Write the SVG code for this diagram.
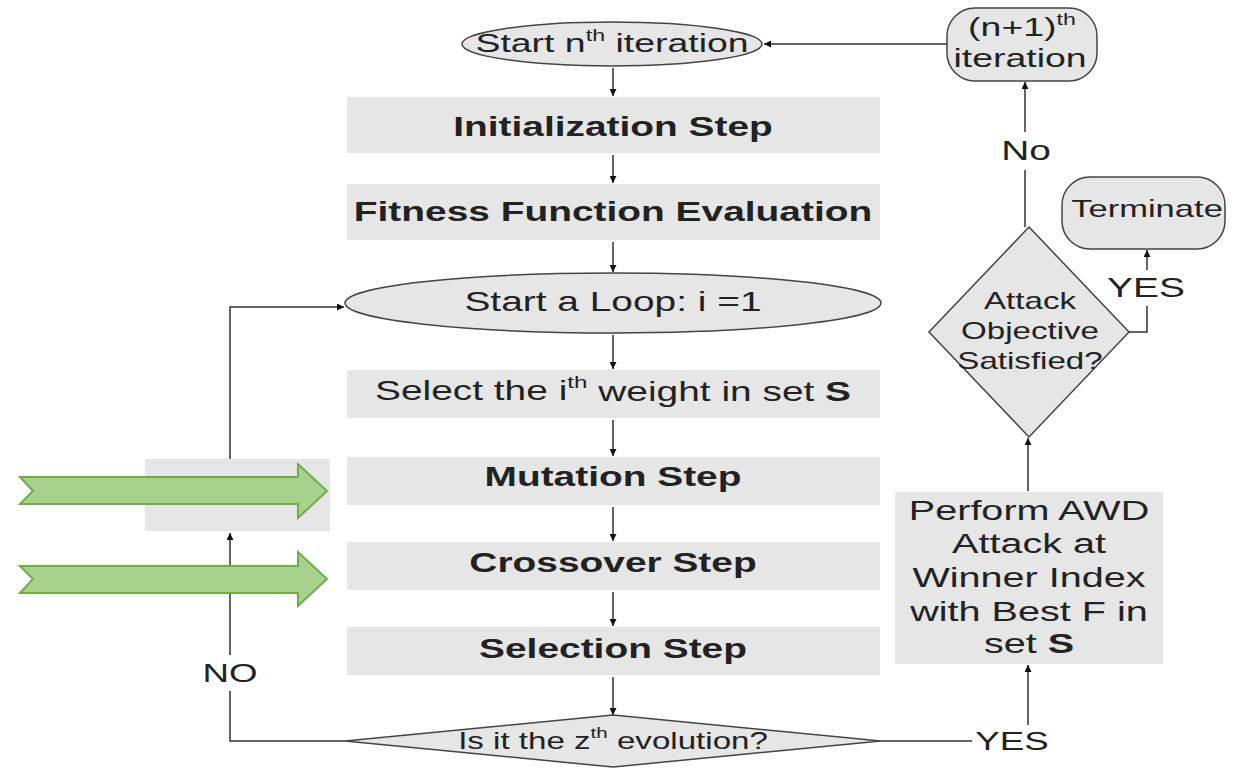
<svg xmlns="http://www.w3.org/2000/svg" width="1237" height="769" viewBox="0 0 1237 769">
  <defs>
    <marker id="ah" viewBox="0 0 10 10" refX="10" refY="5" markerWidth="7" markerHeight="7" orient="auto" markerUnits="userSpaceOnUse">
      <path d="M0,0 L10,5 L0,10 z" fill="#111"/>
    </marker>
    <style>
      text { font-family: "Liberation Sans", Arial, sans-serif; fill: #222; text-anchor: middle; dominant-baseline: central; }
      .box { fill: #e6e6e6; stroke: none; }
      .term { fill: #e6e6e6; stroke: #444; stroke-width: 1.5; }
      .b { font-weight: bold; font-size: 27px; }
      .n { font-size: 27px; }
      .edge { fill: none; stroke: #333; stroke-width: 1.5; }
      .arr { marker-end: url(#ah); }
      .green { fill: #a9d18e; stroke: #70ad47; stroke-width: 2; }
      .sup { font-size: 62%; }
    </style>
  </defs>
  <rect width="1237" height="769" fill="#ffffff"/>

  <!-- connectors -->
  <g id="connectors">
    <line class="edge arr" x1="613" y1="68" x2="613" y2="96"/>
    <line class="edge arr" x1="613" y1="155" x2="613" y2="183"/>
    <line class="edge arr" x1="613" y1="242" x2="613" y2="272"/>
    <line class="edge arr" x1="613" y1="335" x2="613" y2="369"/>
    <line class="edge arr" x1="613" y1="420" x2="613" y2="456"/>
    <line class="edge arr" x1="613" y1="507" x2="613" y2="541"/>
    <line class="edge arr" x1="613" y1="592" x2="613" y2="626"/>
    <line class="edge arr" x1="613" y1="677" x2="613" y2="715"/>
    <!-- NO branch back to the loop -->
    <polyline class="edge arr" points="345,741 230,741 230,533"/>
    <polyline class="edge arr" points="230,459 230,307 344,307"/>
    <!-- YES branch to the attack -->
    <polyline class="edge" points="881,741 972,741"/>
    <line class="edge arr" x1="1028" y1="725" x2="1028" y2="665"/>
    <line class="edge arr" x1="1028" y1="491" x2="1028" y2="438"/>
    <!-- objective not met: next iteration -->
    <line class="edge" x1="1025" y1="227" x2="1025" y2="170"/>
    <line class="edge arr" x1="1025" y1="132" x2="1025" y2="82"/>
    <line class="edge arr" x1="947" y1="44" x2="764" y2="44"/>
    <!-- objective met: terminate -->
    <polyline class="edge" points="1129,332 1147,332 1147,306"/>
    <line class="edge arr" x1="1147" y1="270" x2="1147" y2="250"/>
    <rect x="200" y="655" width="60" height="36" fill="#ffffff"/>
    <text transform="translate(230,673) scale(1.44,1)" font-size="25.5">NO</text>
    <text transform="translate(1012,741) scale(1.44,1)" font-size="25.5">YES</text>
    <text transform="translate(1026,151) scale(1.44,1)" font-size="27">No</text>
    <text transform="translate(1146,288) scale(1.44,1)" font-size="27">YES</text>
  </g>

  <g id="start-iter">
    <ellipse class="term" cx="612" cy="44" rx="150" ry="22"/>
    <text transform="translate(612,43) scale(1.44,1)" font-size="26">Start n<tspan class="sup" dy="-8">th</tspan><tspan dy="8"> iteration</tspan></text>
  </g>

  <g id="next-iter">
    <rect class="term" x="947" y="8" width="150" height="73" rx="28" ry="28"/>
    <text transform="translate(1022,27) scale(1.44,1)" font-size="26">(n+1)<tspan class="sup" dy="-8">th</tspan></text>
    <text transform="translate(1020,58) scale(1.44,1)" font-size="26">iteration</text>
  </g>

  <g id="init">
    <rect class="box" x="347" y="97" width="533" height="56"/>
    <text class="b" transform="translate(613,127) scale(1.44,1)">Initialization Step</text>
  </g>

  <g id="fitness">
    <rect class="box" x="347" y="184" width="533" height="56"/>
    <text class="b" transform="translate(613,212) scale(1.44,1)">Fitness Function Evaluation</text>
  </g>

  <g id="loop">
    <ellipse class="term" cx="613" cy="303" rx="268" ry="30"/>
    <text class="n" transform="translate(613,302) scale(1.44,1)">Start a Loop: i =1</text>
  </g>

  <g id="select-weight">
    <rect class="box" x="347" y="370" width="533" height="48"/>
    <text class="n" transform="translate(613,391) scale(1.44,1)">Select the i<tspan class="sup" dy="-9">th</tspan><tspan dy="9"> weight in set </tspan><tspan font-weight="bold">S</tspan></text>
  </g>

  <g id="side-box">
    <rect class="box" x="145" y="459" width="185" height="72"/>
  </g>

  <g id="mutation">
    <rect class="box" x="347" y="457" width="533" height="48"/>
    <text class="b" transform="translate(613,477) scale(1.44,1)">Mutation Step</text>
  </g>

  <g id="crossover">
    <rect class="box" x="347" y="542" width="533" height="48"/>
    <text class="b" transform="translate(613,563) scale(1.44,1)">Crossover Step</text>
  </g>

  <g id="selection">
    <rect class="box" x="347" y="627" width="533" height="48"/>
    <text class="b" transform="translate(613,649) scale(1.44,1)">Selection Step</text>
  </g>

  <g id="evolution-check">
    <polygon class="term" points="613,715 881,741 613,767 345,741"/>
    <text transform="translate(613,741) scale(1.44,1)" font-size="23">Is it the z<tspan class="sup" dy="-8">th</tspan><tspan dy="8"> evolution?</tspan></text>
  </g>

  <g id="awd-attack">
    <rect class="box" x="895" y="492" width="268" height="172"/>
    <g font-size="27.5">
      <text transform="translate(1029,510) scale(1.44,1)">Perform AWD</text>
      <text transform="translate(1029,543) scale(1.44,1)">Attack at</text>
      <text transform="translate(1029,577) scale(1.44,1)">Winner Index</text>
      <text transform="translate(1029,611) scale(1.44,1)">with Best F in</text>
      <text transform="translate(1029,643) scale(1.44,1)">set <tspan font-weight="bold">S</tspan></text>
    </g>
  </g>

  <g id="objective-check">
    <polygon class="term" points="1029,227 1129,332 1029,437 929,332"/>
    <g font-size="23">
      <text transform="translate(1030,301) scale(1.44,1)">Attack</text>
      <text transform="translate(1030,331) scale(1.44,1)">Objective</text>
      <text transform="translate(1030,361) scale(1.44,1)">Satisfied?</text>
    </g>
  </g>

  <g id="terminate">
    <rect class="term" x="1062" y="177" width="163" height="72" rx="28" ry="28"/>
    <text transform="translate(1147,209) scale(1.44,1)" font-size="24">Terminate</text>
  </g>

  <g id="input-arrows">
    <polygon class="green" points="20,477 298,477 298,464 327,491 298,518 298,504 20,504 33,491"/>
    <polygon class="green" points="20,566 298,566 298,552 327,579 298,606 298,593 20,593 33,579"/>
  </g>
</svg>
